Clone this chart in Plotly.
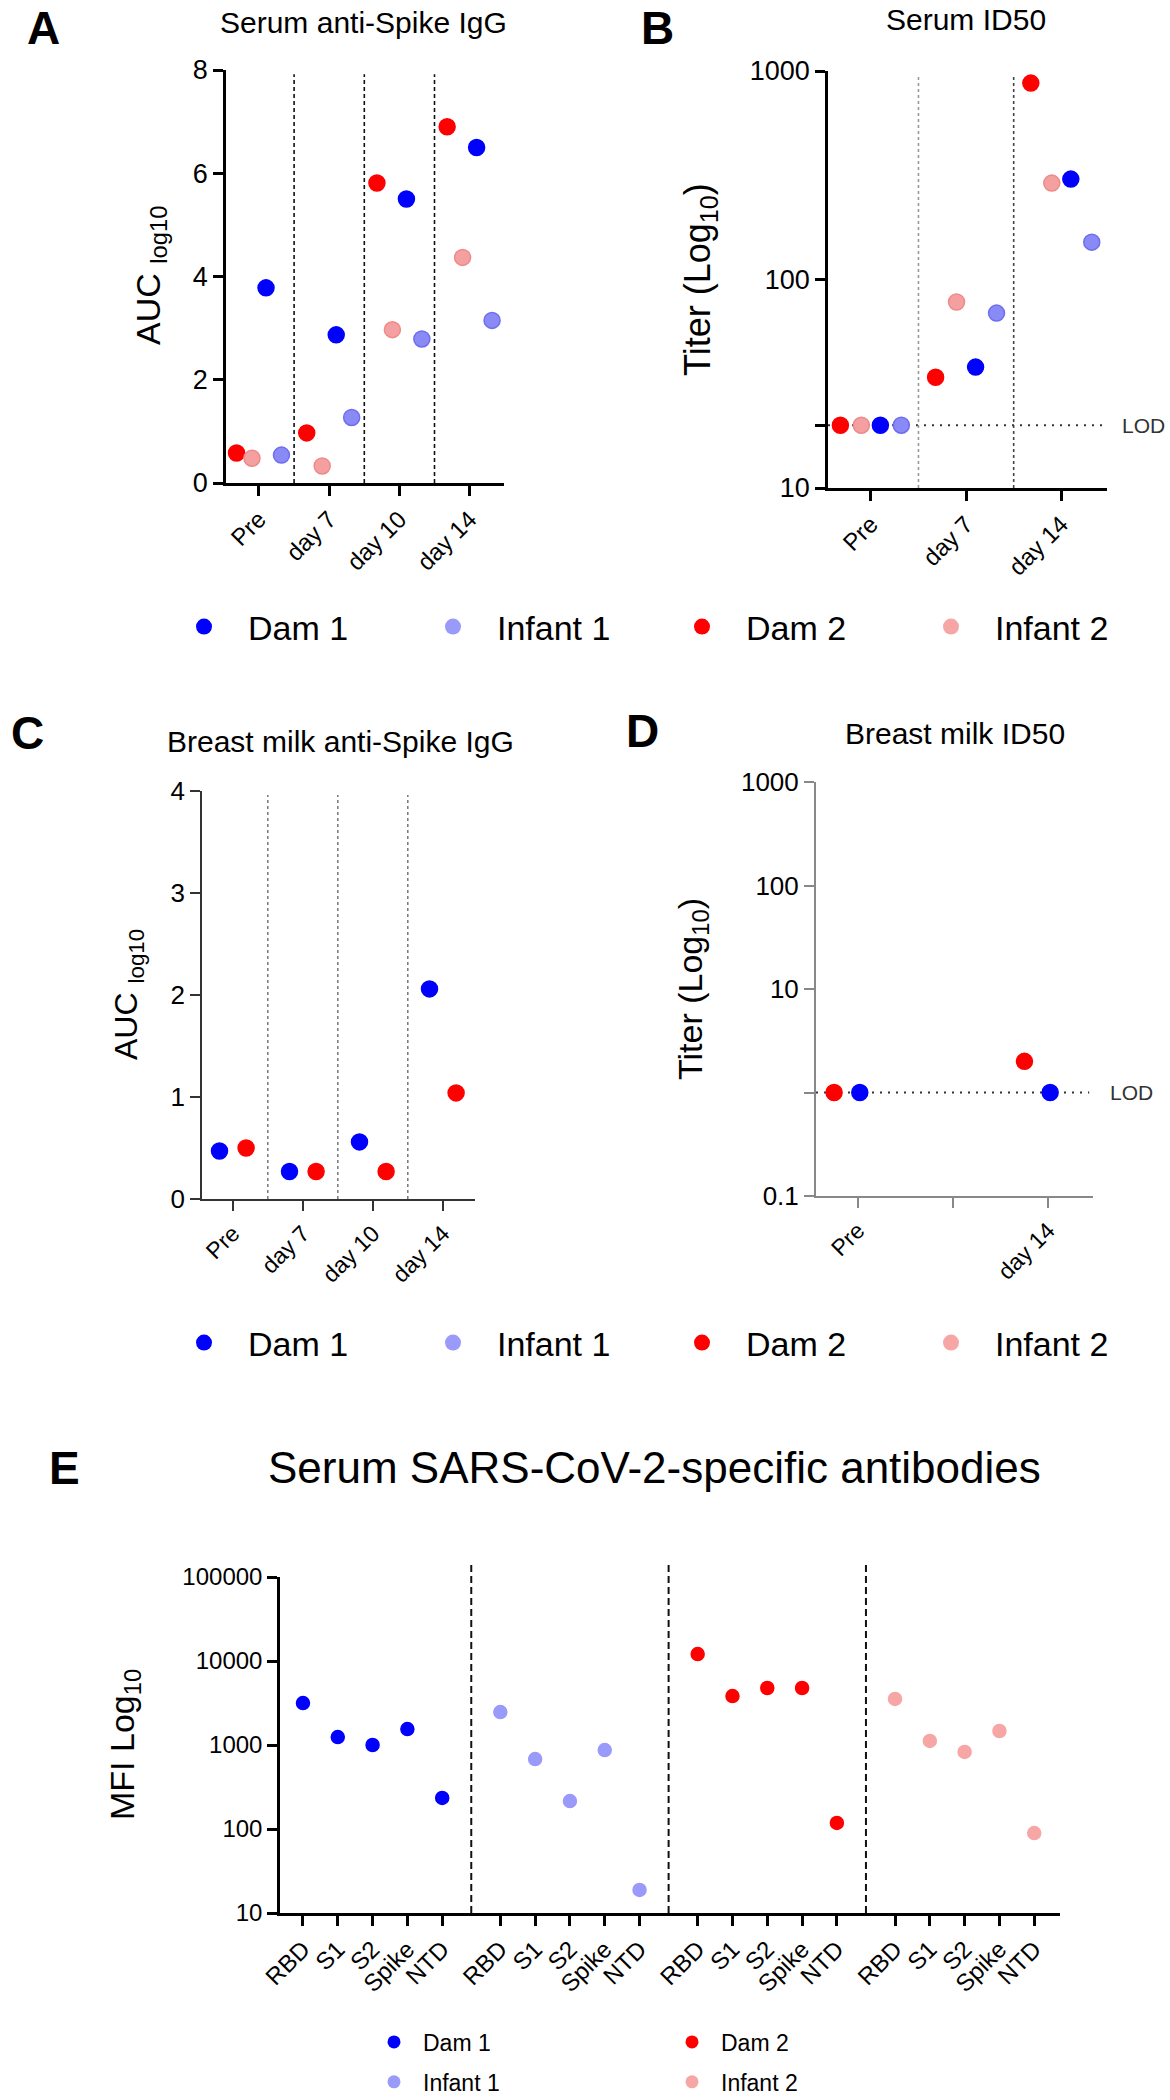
import math
import plotly.graph_objects as go

# ---------------- data ----------------
subjects = ["Dam 1", "Infant 1", "Dam 2", "Infant 2"]

# A: Serum anti-Spike IgG (AUC log10)
timepoints_serum_igg = ["Pre", "day 7", "day 10", "day 14"]
serum_igg_dam1 = [3.78, 2.87, 5.50, 6.50]
serum_igg_infant1 = [0.54, 1.27, 2.79, 3.15]
serum_igg_dam2 = [0.58, 0.97, 5.81, 6.90]
serum_igg_infant2 = [0.48, 0.33, 2.97, 4.37]

# B: Serum ID50
timepoints_serum_id50 = ["Pre", "day 7", "day 14"]
serum_id50_dam1 = [20, 38, 303]
serum_id50_infant1 = [20, 69, 151]
serum_id50_dam2 = [20, 34, 875]
serum_id50_infant2 = [20, 78, 290]
serum_lod = 20

# C: Breast milk anti-Spike IgG
timepoints_milk_igg = ["Pre", "day 7", "day 10", "day 14"]
milk_igg_dam1 = [0.47, 0.27, 0.56, 2.06]
milk_igg_dam2 = [0.50, 0.27, 0.27, 1.04]

# D: Breast milk ID50
milk_id50_ticks = ["Pre", " ", "day 14"]
milk_id50_days = ["Pre", "day 14"]
milk_id50_dam1 = [1, 1]
milk_id50_dam2 = [1, 2.0]
milk_lod = 1

# E: Serum SARS-CoV-2-specific antibodies (MFI)
antigens = ["RBD", "S1", "S2", "Spike", "NTD"]
mfi_dam1 = [3160, 1245, 1000, 1550, 234]
mfi_infant1 = [2470, 681, 215, 871, 18.8]
mfi_dam2 = [12100, 3830, 4770, 4770, 118]
mfi_infant2 = [3530, 1117, 826, 1468, 89.5]

# ---------------- style ----------------
W, H = 1170, 2100
FONT = "Liberation Sans, Arial, Helvetica, sans-serif"
FILL = {"Dam 1": "#0000FF", "Infant 1": "#8A8AF7", "Dam 2": "#FF0000", "Infant 2": "#F5A0A0"}
EDGE = {"Dam 1": "#0000FF", "Infant 1": "#6E6EEE", "Dam 2": "#FF0000", "Infant 2": "#EE8A8A"}
FILL_E = {"Dam 1": "#0000FF", "Infant 1": "#9A9AFA", "Dam 2": "#FF0000", "Infant 2": "#F7A6A6"}
OFFSET_AB = {"Dam 2": -0.32, "Infant 2": -0.10, "Dam 1": 0.10, "Infant 1": 0.32}
OFFSET_C = {"Dam 1": -0.19, "Dam 2": 0.19}
OFFSET_D = {"Dam 2": -0.25, "Dam 1": 0.02}
GROUP_STEP = 5.67


def px_x(p):
    return p / W


def px_y(p):
    return 1 - p / H


def dom_x(a, b):
    return [a / W, b / W]


def dom_y(top, bottom):
    return [1 - bottom / H, 1 - top / H]


fig = go.Figure()


def add_points(xa, ya, xs, ys, subject, size=16, fill=FILL, edge=EDGE):
    fig.add_trace(go.Scatter(
        x=xs, y=ys, mode="markers", xaxis=xa, yaxis=ya, showlegend=False,
        hoverinfo="skip", cliponaxis=False,
        marker=dict(size=size, color=fill[subject], line=dict(color=edge[subject], width=1.5)),
    ))


# ---- A ----
serum_igg = {"Dam 2": serum_igg_dam2, "Infant 2": serum_igg_infant2,
             "Dam 1": serum_igg_dam1, "Infant 1": serum_igg_infant1}
for s, vals in serum_igg.items():
    add_points("x", "y", [i + OFFSET_AB[s] for i in range(len(vals))], vals, s)

# ---- B ----
B_RANGE = [-0.45, 2.48]
fig.add_trace(go.Scatter(x=B_RANGE, y=[serum_lod, serum_lod], mode="lines", xaxis="x2", yaxis="y2",
                         showlegend=False, hoverinfo="skip",
                         line=dict(color="#333333", width=2, dash="2px,6px")))
serum_id50 = {"Dam 2": serum_id50_dam2, "Infant 2": serum_id50_infant2,
              "Dam 1": serum_id50_dam1, "Infant 1": serum_id50_infant1}
for s, vals in serum_id50.items():
    add_points("x2", "y2", [i + OFFSET_AB[s] for i in range(len(vals))], vals, s)

# ---- C ----
milk_igg = {"Dam 1": milk_igg_dam1, "Dam 2": milk_igg_dam2}
for s, vals in milk_igg.items():
    add_points("x3", "y3", [i + OFFSET_C[s] for i in range(len(vals))], vals, s)

# ---- D ----
D_RANGE = [-0.44, 2.47]
fig.add_trace(go.Scatter(x=[D_RANGE[0], D_RANGE[1] - 0.04], y=[milk_lod, milk_lod], mode="lines",
                         xaxis="x4", yaxis="y4", showlegend=False, hoverinfo="skip",
                         line=dict(color="#333333", width=2, dash="2px,6px")))
milk_id50 = {"Dam 2": milk_id50_dam2, "Dam 1": milk_id50_dam1}
for s, vals in milk_id50.items():
    xs = [milk_id50_ticks.index(d) + OFFSET_D[s] for d in milk_id50_days]
    add_points("x4", "y4", xs, vals, s)

# ---- E ----
mfi = {"Dam 1": mfi_dam1, "Infant 1": mfi_infant1, "Dam 2": mfi_dam2, "Infant 2": mfi_infant2}
e_tickvals, e_ticktext = [], []
for g, s in enumerate(subjects):
    xs = [g * GROUP_STEP + i for i in range(len(antigens))]
    e_tickvals += xs
    e_ticktext += antigens
    add_points("x5", "y5", xs, mfi[s], s, size=13, fill=FILL_E, edge=FILL_E)

# ---- legends (entries only) ----
for lg in ["legend", "legend2"]:
    for s in subjects:
        fig.add_trace(go.Scatter(x=[None], y=[None], mode="markers", name=s, legend=lg,
                                 xaxis="x", yaxis="y", hoverinfo="skip",
                                 marker=dict(size=16, color=FILL_E[s])))
for lg, names in [("legend3", ["Dam 1", "Infant 1"]), ("legend4", ["Dam 2", "Infant 2"])]:
    for s in names:
        fig.add_trace(go.Scatter(x=[None], y=[None], mode="markers", name=s, legend=lg,
                                 legendgroup=s, xaxis="x", yaxis="y", hoverinfo="skip",
                                 marker=dict(size=13, color=FILL_E[s])))


# ---------------- axes ----------------
def ax(lw=2.5, color="black", ticklen=10, size=27, **kw):
    d = dict(showline=True, linewidth=lw, linecolor=color, ticks="outside", ticklen=ticklen,
             tickwidth=lw, tickcolor=color, showgrid=False, zeroline=False, fixedrange=True,
             automargin=False, tickfont=dict(size=size, color="black", family=FONT))
    d.update(kw)
    return d


fig.update_layout(
    xaxis=ax(domain=dom_x(226, 504), anchor="y", range=[-0.47, 3.49], size=24,
             tickvals=list(range(len(timepoints_serum_igg))), ticktext=timepoints_serum_igg, tickangle=-45),
    yaxis=ax(domain=dom_y(70, 483), anchor="x", range=[0, 8], tickvals=[0, 2, 4, 6, 8]),
    xaxis2=ax(domain=dom_x(828, 1107), anchor="y2", range=B_RANGE, size=24,
              tickvals=list(range(len(timepoints_serum_id50))), ticktext=timepoints_serum_id50, tickangle=-45),
    yaxis2=ax(domain=dom_y(71, 488), anchor="x2", type="log", range=[1, 3],
              tickvals=[10, serum_lod, 100, 1000], ticktext=["10", " ", "100", "1000"]),
    xaxis3=ax(lw=1.8, color="#333333", domain=dom_x(202, 475), anchor="y3", range=[-0.44, 3.46], size=23,
              tickvals=list(range(len(timepoints_milk_igg))), ticktext=timepoints_milk_igg, tickangle=-45),
    yaxis3=ax(lw=1.8, color="#333333", domain=dom_y(791, 1199), anchor="x3", range=[0, 4],
              tickvals=[0, 1, 2, 3, 4], size=26),
    xaxis4=ax(lw=2, color="#888888", domain=dom_x(816, 1093), anchor="y4", range=D_RANGE, size=23,
              tickvals=list(range(len(milk_id50_ticks))), ticktext=milk_id50_ticks, tickangle=-45),
    yaxis4=ax(lw=2, color="#888888", domain=dom_y(782, 1196), anchor="x4", type="log", range=[-1, 3],
              tickvals=[0.1, milk_lod, 10, 100, 1000], ticktext=["0.1", " ", "10", "100", "1000"], size=26),
    xaxis5=ax(domain=dom_x(280, 1060), anchor="y5", range=[-0.66, 21.75], size=24,
              tickvals=e_tickvals, ticktext=e_ticktext, tickangle=-45),
    yaxis5=ax(domain=dom_y(1577, 1913), anchor="x5", type="log", range=[1, 5],
              tickvals=[10, 100, 1000, 10000, 100000],
              ticktext=["10", "100", "1000", "10000", "100000"], size=24),
)

# ---------------- divider lines ----------------
shapes = []
for k in range(len(timepoints_serum_igg) - 1):
    shapes.append(dict(type="line", xref="x", yref="y domain", x0=k + 0.5, x1=k + 0.5, y0=0, y1=0.99,
                       line=dict(color="#111111", width=1.6, dash="4px,3px")))
for k, col in zip(range(len(timepoints_serum_id50) - 1), ["#999999", "#444444"]):
    shapes.append(dict(type="line", xref="x2", yref="y2 domain", x0=k + 0.5, x1=k + 0.5, y0=0, y1=0.99,
                       line=dict(color=col, width=1.6, dash="3px,3px")))
for k in range(len(timepoints_milk_igg) - 1):
    shapes.append(dict(type="line", xref="x3", yref="y3 domain", x0=k + 0.5, x1=k + 0.5, y0=0, y1=0.99,
                       line=dict(color="#777777", width=1.5, dash="3px,3px")))
for g in range(len(subjects) - 1):
    xm = g * GROUP_STEP + (len(antigens) - 1) + (GROUP_STEP - (len(antigens) - 1)) / 2
    shapes.append(dict(type="line", xref="x5", yref="y5 domain", x0=xm, x1=xm, y0=0, y1=1.04,
                       line=dict(color="#111111", width=2, dash="7px,4px")))
fig.update_layout(shapes=shapes)

# ---------------- text ----------------
ann = []


def text(x, y, s, size, angle=0, anchor="center", color="black", yref="paper", yval=None, vanchor="middle"):
    ann.append(dict(x=px_x(x), y=px_y(y) if yval is None else yval, xref="paper", yref=yref, text=s,
                    showarrow=False, textangle=angle, xanchor=anchor, yanchor=vanchor,
                    font=dict(size=size, color=color, family=FONT)))


# panel letters
text(43, 0, "<b>A</b>", 46, vanchor="top")
text(657, 0, "<b>B</b>", 46, vanchor="top")
text(27, 733, "<b>C</b>", 46)
text(642, 731, "<b>D</b>", 46)
text(64, 1468, "<b>E</b>", 46)
# titles
text(363, 22, "Serum anti-Spike IgG", 30)
text(966, 20, "Serum ID50", 30)
text(340, 742, "Breast milk anti-Spike IgG", 30)
text(955, 733, "Breast milk ID50", 30)
text(654, 1467, "Serum SARS-CoV-2-specific antibodies", 44)
# axis titles
text(150, 276, "AUC <sub>log10</sub>", 34, angle=-90)
text(700, 280, "Titer (Log<sub>10</sub>)", 36, angle=-90)
text(128, 995, "AUC <sub>log10</sub>", 32, angle=-90)
text(692, 989, "Titer (Log<sub>10</sub>)", 34, angle=-90)
text(124, 1745, "MFI Log<sub>10</sub>", 34, angle=-90)
# LOD labels
text(1120, 0, "LOD", 21, anchor="left", color="#333333", yref="y2", yval=math.log10(serum_lod))
text(1108, 0, "LOD", 21, anchor="left", color="#333333", yref="y4", yval=math.log10(milk_lod))
fig.update_layout(annotations=ann)

# ---------------- legends ----------------
leg_h = dict(orientation="h", xanchor="left", yanchor="middle", bgcolor="rgba(0,0,0,0)",
             font=dict(size=34, color="black", family=FONT), entrywidth=156, entrywidthmode="pixels",
             itemwidth=78, itemclick=False, itemdoubleclick=False)
leg_v = dict(orientation="v", xanchor="left", yanchor="middle", bgcolor="rgba(0,0,0,0)",
             font=dict(size=23, color="black", family=FONT), tracegroupgap=7, itemwidth=48,
             itemclick=False, itemdoubleclick=False)
fig.update_layout(
    legend=dict(leg_h, x=px_x(160), y=px_y(627)),
    legend2=dict(leg_h, x=px_x(160), y=px_y(1343)),
    legend3=dict(leg_v, x=px_x(365), y=px_y(2062)),
    legend4=dict(leg_v, x=px_x(663), y=px_y(2062)),
)

fig.update_layout(
    width=W, height=H, margin=dict(l=0, r=0, t=0, b=0, pad=0, autoexpand=False),
    paper_bgcolor="white", plot_bgcolor="white", showlegend=True,
    font=dict(family=FONT, color="black"),
)

fig.write_html(
    "out.html",
    config={"displayModeBar": False, "staticPlot": False},
    post_script="document.body.style.margin='0px';document.body.style.overflow='hidden';",
)
